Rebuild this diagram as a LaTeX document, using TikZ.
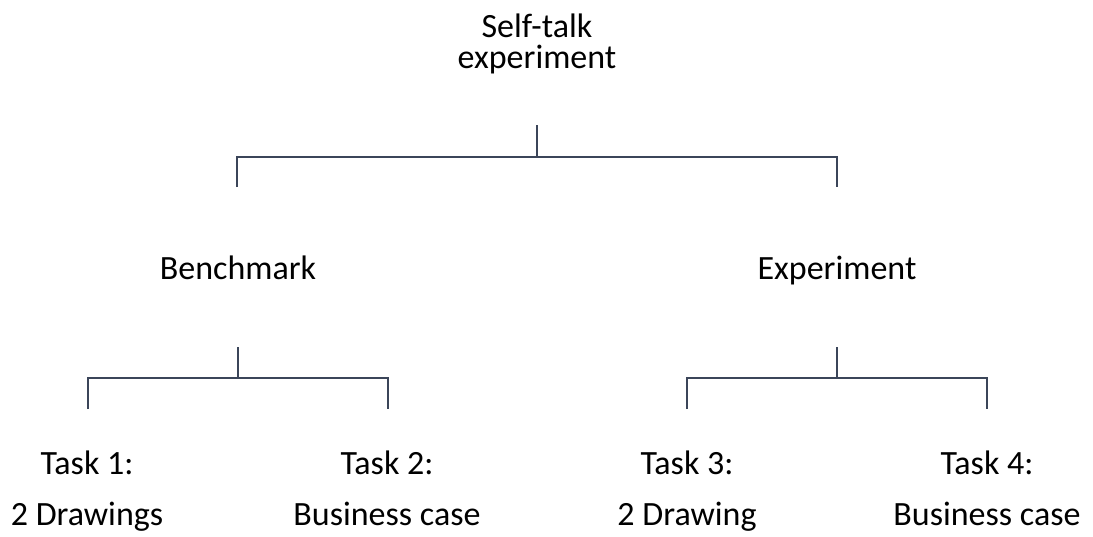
\documentclass[tikz,border=0pt]{standalone}
\usepackage{fontspec}
\setmainfont{Carlito}
\definecolor{branchgray}{HTML}{3B4559}

\begin{document}
\begin{tikzpicture}[x=0.75pt,y=-0.75pt,
  label/.style={anchor=base,align=center,inner sep=0pt,font=\fontsize{25.5}{23.25}\selectfont},
  task/.style={label,font=\fontsize{25.5}{38.25}\selectfont},
  branch/.style={draw=branchgray,line width=1.9pt}]
\useasboundingbox (0,0) rectangle (1093,536);

% top level
\node[label] (root) at (537,68) {Self-talk\\experiment};
\node[label] (bench) at (238,279) {Benchmark};
\node[label] (exper) at (837,279) {Experiment};

\coordinate (root-stem) at (537,125);
\coordinate (root-bar) at (537,157);
\coordinate (bench-top) at (237,187);
\coordinate (exper-top) at (837,187);
\draw[branch] (root-stem) -- (root-bar);
\draw[branch] (bench-top) |- (root-bar) -| (exper-top);

% second level
\node[task] (task1) at (87,525) {Task 1:\\2 Drawings};
\node[task] (task2) at (387,525) {Task 2:\\Business case};
\node[task] (task3) at (687,525) {Task 3:\\2 Drawing};
\node[task] (task4) at (987,525) {Task 4:\\Business case};

\coordinate (bench-stem) at (238,347);
\coordinate (bench-bar) at (238,378);
\coordinate (task1-top) at (88,409);
\coordinate (task2-top) at (388,409);
\draw[branch] (bench-stem) -- (bench-bar);
\draw[branch] (task1-top) |- (bench-bar) -| (task2-top);

\coordinate (exper-stem) at (837,347);
\coordinate (exper-bar) at (837,378);
\coordinate (task3-top) at (687,409);
\coordinate (task4-top) at (987,409);
\draw[branch] (exper-stem) -- (exper-bar);
\draw[branch] (task3-top) |- (exper-bar) -| (task4-top);

\end{tikzpicture}
\end{document}
